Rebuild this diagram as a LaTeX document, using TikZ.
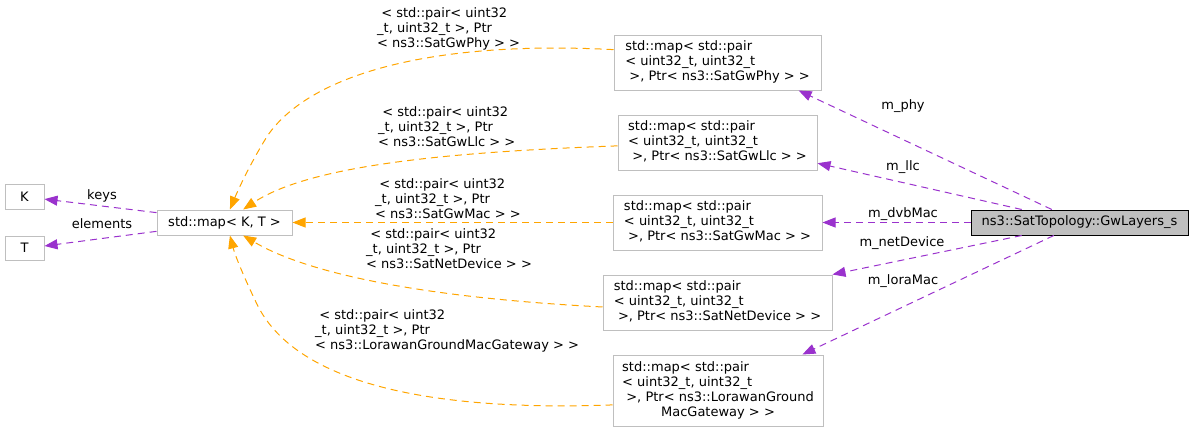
\documentclass[tikz,border=0pt]{standalone}
\usepackage{fontspec}
\setmainfont{DejaVu Sans}
\usetikzlibrary{arrows.meta,calc}
\definecolor{edgeorange}{HTML}{FFA500}
\definecolor{edgepurple}{HTML}{9A32CD}
\definecolor{boxgray}{HTML}{BFBFBF}
\newcommand{\tl}[1]{\begin{tabular}{@{}l@{}}#1\end{tabular}}
\begin{document}
\begin{tikzpicture}[x=1pt,y=-1pt,
  every node/.style={font=\fontsize{13}{15}\selectfont, inner sep=0pt},
  box/.style={draw=boxgray, line width=1pt, fill=white, rectangle},
  rootbox/.style={draw=black, line width=1pt, fill=boxgray, rectangle},
  lbl/.style={anchor=west},
  orangeedge/.style={draw=edgeorange, line width=1pt, dash pattern=on 7pt off 5pt,
     -{Triangle[length=13pt,width=10pt,fill=edgeorange]}},
  purpleedge/.style={draw=edgepurple, line width=1pt, dash pattern=on 7pt off 5pt,
     -{Triangle[length=13pt,width=10pt,fill=edgepurple]}}
]
\useasboundingbox (0,0) rectangle (1193,431);
\renewcommand{\arraystretch}{1}

% nodes
\node[box, minimum width=39pt, minimum height=25pt] (K) at (24.5,196.5) {K};
\node[box, minimum width=39pt, minimum height=24pt] (T) at (24.5,248) {T};
\node[box, minimum width=135pt, minimum height=25pt] (map) at (224.5,222.5) {std::map< K, T >};
\node[box, minimum width=207pt, minimum height=55pt] (phy) at (717.5,62.5)
  {\tl{std::map< std::pair\\< uint32\_t, uint32\_t\\\ >, Ptr< ns3::SatGwPhy > >}};
\node[box, minimum width=199pt, minimum height=55pt] (llc) at (717.5,142.5)
  {\tl{std::map< std::pair\\< uint32\_t, uint32\_t\\\ >, Ptr< ns3::SatGwLlc > >}};
\node[box, minimum width=209pt, minimum height=55pt] (mac) at (717.5,222.5)
  {\tl{std::map< std::pair\\< uint32\_t, uint32\_t\\\ >, Ptr< ns3::SatGwMac > >}};
\node[box, minimum width=229pt, minimum height=55pt] (net) at (717.5,302.5)
  {\tl{std::map< std::pair\\< uint32\_t, uint32\_t\\\ >, Ptr< ns3::SatNetDevice > >}};
\node[box, minimum width=210pt, minimum height=71pt] (lora) at (718,390.5)
  {\tl{std::map< std::pair\\< uint32\_t, uint32\_t\\\ >, Ptr< ns3::LorawanGround\\\multicolumn{1}{@{}c@{}}{MacGateway > >}}};
\node[rootbox, minimum width=217pt, minimum height=25pt] (gw) at (1079.5,222.5) {ns3::SatTopology::GwLayers\_s};

% orange edge labels
\node[lbl] (lphy) at (377,29) {\tl{\ < std::pair< uint32\\\_t, uint32\_t >, Ptr\\< ns3::SatGwPhy > >}};
\node[lbl] (lllc) at (378,128) {\tl{\ < std::pair< uint32\\\_t, uint32\_t >, Ptr\\< ns3::SatGwLlc > >}};
\node[lbl] (lmac) at (375,200) {\tl{\ < std::pair< uint32\\\_t, uint32\_t >, Ptr\\< ns3::SatGwMac > >}};
\node[lbl] (lnet) at (366,250) {\tl{\ < std::pair< uint32\\\_t, uint32\_t >, Ptr\\< ns3::SatNetDevice > >}};
\node[lbl] (llora) at (315,331) {\tl{\ < std::pair< uint32\\\_t, uint32\_t >, Ptr\\< ns3::LorawanGroundMacGateway > >}};

% purple edge labels
\node (lkeys) at (102,196) {keys};
\node (lelem) at (102,224) {elements};
\node (lmphy) at (903,106) {m\_phy};
\node (lmllc) at (903,167) {m\_llc};
\node (lmdvb) at (903,214) {m\_dvbMac};
\node (lmnet) at (902,243) {m\_netDevice};
\node (lmlora) at (903,281) {m\_loraMac};

% orange edges
\draw[orangeedge] ($(phy.north west)!0.27!(phy.south west)$)
  .. controls (430,40) and (310,75) .. (268,135)
  .. controls (252,160) and (238,190) .. ($(map.north west)!0.54!(map.north east)$);
\draw[orangeedge] ($(llc.north west)!0.56!(llc.south west)$)
  .. controls (450,152) and (310,165) .. ($(map.north west)!0.637!(map.north east)$);
\draw[orangeedge] (mac.west) -- (map.east);
\draw[orangeedge] ($(net.north west)!0.58!(net.south west)$)
  .. controls (430,298) and (310,275) .. ($(map.south west)!0.637!(map.south east)$);
\draw[orangeedge] ($(lora.north west)!0.70!(lora.south west)$)
  .. controls (420,412) and (290,380) .. (255,300)
  .. controls (243,275) and (235,255) .. ($(map.south west)!0.54!(map.south east)$);

% purple edges
\draw[purpleedge] ($(map.north west)!0.12!(map.south west)$) -- ($(K.north east)!0.6!(K.south east)$);
\draw[purpleedge] ($(map.north west)!0.84!(map.south west)$) -- ($(T.north east)!0.42!(T.south east)$);
\draw[purpleedge] ($(gw.north west)!0.373!(gw.north east)$) -- ($(phy.south west)!0.89!(phy.south east)$);
\draw[purpleedge] ($(gw.north west)!0.235!(gw.north east)$) -- ($(llc.north east)!0.87!(llc.south east)$);
\draw[purpleedge] (gw.west) -- (mac.east);
\draw[purpleedge] ($(gw.south west)!0.235!(gw.south east)$) -- (net.north east);
\draw[purpleedge] ($(gw.south west)!0.382!(gw.south east)$) -- ($(lora.north west)!0.9!(lora.north east)$);
\end{tikzpicture}
\end{document}
